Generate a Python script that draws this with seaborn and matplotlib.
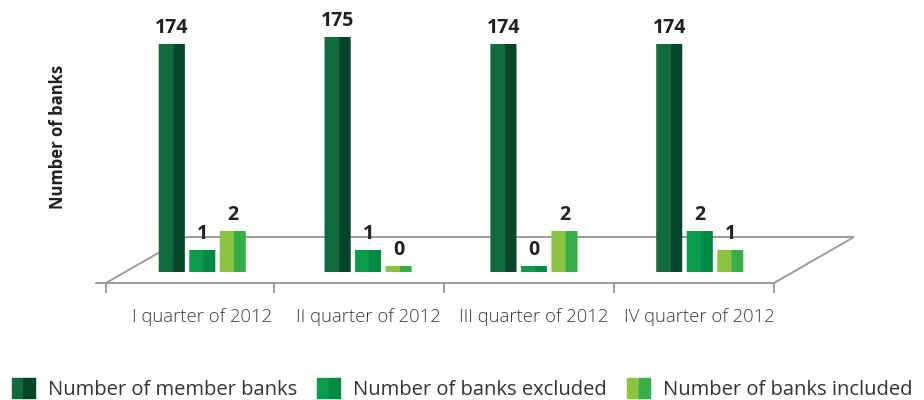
import numpy as np
import pandas as pd
import matplotlib
matplotlib.use("Agg")
import matplotlib.pyplot as plt
from matplotlib.patches import Rectangle
from matplotlib.legend_handler import HandlerTuple
import seaborn as sns

# ---- data -------------------------------------------------------------
quarters = ["I quarter of 2012", "II quarter of 2012",
            "III quarter of 2012", "IV quarter of 2012"]
series_names = ["Number of member banks", "Number of banks excluded",
                "Number of banks included"]
member_banks = [174, 175, 174, 174]
banks_excluded = [1, 1, 0, 2]
banks_included = [2, 0, 2, 1]

# front-face and side-face colours of each series
face_colors = ["#116b3b", "#0a9b4b", "#8bc440"]
side_colors = ["#04462a", "#008a44", "#36ae49"]

df = pd.DataFrame({
    "quarter": quarters * 3,
    "series": np.repeat(series_names, len(quarters)),
    "value": member_banks + banks_excluded + banks_included,
})

# ---- broken value scale: small counts stretched, large counts compressed
FLOOR = -0.375
_knot_vals = np.array([FLOOR, 0.0, 1.0, 2.0, 174.0, 175.0, 200.0])
_knot_pos = np.array([0.0, 6.0, 22.0, 41.0, 228.0, 235.0, 260.0])


def fwd(v):
    return np.interp(v, _knot_vals, _knot_pos)


def inv(p):
    return np.interp(p, _knot_pos, _knot_vals)


sns.set_theme(style="white")
plt.rcParams["font.family"] = ["Open Sans", "DejaVu Sans"]

W, H = 924, 400
fig = plt.figure(figsize=(W / 100, H / 100), dpi=100)

# ---- perspective floor (pixel space overlay, behind the bars)
floor_ax = fig.add_axes([0, 0, 1, 1], zorder=0)
floor_ax.set_xlim(0, W)
floor_ax.set_ylim(H, 0)
floor_ax.axis("off")
line_kw = dict(color="#9b9b9b", lw=1.4, solid_capstyle="butt")
floor_ax.plot([95, 774], [283, 283], **line_kw)
floor_ax.plot([106, 186], [283, 237], **line_kw)
floor_ax.plot([186, 854], [237, 237], **line_kw)
floor_ax.plot([774, 854], [283, 237], **line_kw)
for tx in [106, 274, 444, 614, 774]:
    floor_ax.plot([tx, tx], [283, 293], **line_kw)

# ---- bars
ax_left, ax_width = 119.3, 663.3
ax_bottom_px, ax_height_px = 272, 260
ax = fig.add_axes([ax_left / W, (H - ax_bottom_px) / H,
                   ax_width / W, ax_height_px / H], zorder=1)
ax.patch.set_alpha(0)

sns.barplot(data=df, x="quarter", y="value", hue="series",
            order=quarters, hue_order=series_names,
            palette=face_colors, width=0.552, gap=0.15,
            saturation=1, legend=False, linewidth=0, edgecolor="none",
            ax=ax)

ax.set_yscale("function", functions=(fwd, inv))
ax.set_ylim(FLOOR, 200)
ax.set_xlim(-0.5, 3.5)

split = [0.57, 0.54, 0.55]
for i, cont in enumerate(ax.containers):
    ax.bar_label(cont, fmt="%g", padding=4, fontsize=14, fontweight="bold",
                 color="#231f20")
    for p in cont.patches:
        top = p.get_y() + p.get_height()
        p.set_y(FLOOR)
        p.set_height(top - FLOOR)
        p.set_snap(False)
        x0, w = p.get_x(), p.get_width()
        ax.add_patch(Rectangle((x0 + split[i] * w, FLOOR),
                               (1 - split[i]) * w, top - FLOOR,
                               facecolor=side_colors[i], edgecolor="none",
                               linewidth=0, snap=False,
                               zorder=p.get_zorder() + 0.1))

ax.set_xlabel("")
ax.set_ylabel("")
ax.set_yticks([])
ax.tick_params(axis="x", length=0, pad=26, labelsize=13.3,
               labelcolor="#3a3a3a")
for lab in ax.get_xticklabels():
    lab.set_fontweight("light")
sns.despine(ax=ax, left=True, bottom=True)

fig.text(58.5 / W, 1 - 137 / H, "Number of banks", rotation=90,
         ha="center", va="center", fontsize=12, fontweight="bold",
         color="#231f20")

# ---- legend with two-tone swatches
handles = [(Rectangle((0, 0), 1, 1, color=f), Rectangle((0, 0), 1, 1, color=s))
           for f, s in zip(face_colors, side_colors)]
fig.legend(handles, series_names, ncol=3, loc="center left",
           bbox_to_anchor=(12 / W, 1 - 389 / H), frameon=False,
           fontsize=14.5, labelcolor="#333333",
           handler_map={tuple: HandlerTuple(ndivide=None, pad=0)},
           handlelength=1.14, handleheight=1.1, handletextpad=0.65,
           columnspacing=1.0, borderpad=0, borderaxespad=0)

fig.savefig("out.png", dpi=100)
